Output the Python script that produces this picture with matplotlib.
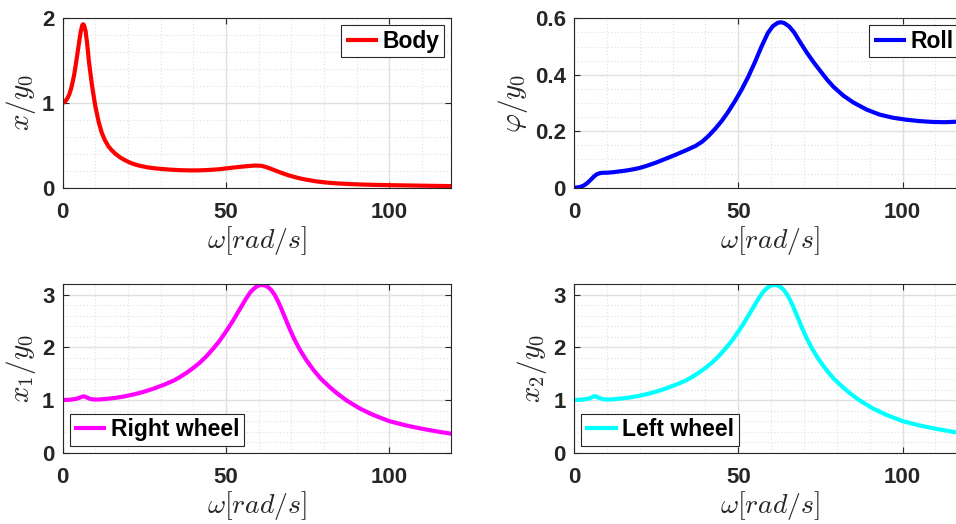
import numpy as np
import matplotlib
matplotlib.use("Agg")
import matplotlib.pyplot as plt
from matplotlib.ticker import MultipleLocator, FuncFormatter

plt.rcParams['font.family'] = ['Liberation Sans', 'DejaVu Sans']
plt.rcParams['mathtext.fontset'] = 'cm'

# ---- data ----
w_body = [0, 0.5, 1, 1.5, 2, 2.5, 3, 3.5, 4, 4.5, 5, 5.5, 6, 6.3, 6.6, 7, 7.5, 8, 8.5, 9,
          9.5, 10, 10.5, 11, 11.5, 12, 13, 14, 15, 16, 17.5, 19, 20.6, 22, 23.7, 26, 28,
          30, 33, 36, 39, 42, 45, 48, 51, 54, 57, 59, 61, 63, 65, 67, 69, 71, 73, 75, 78,
          81, 84, 88, 92, 96, 100, 105, 110, 115, 119]
body = [1.00, 1.01, 1.03, 1.06, 1.10, 1.16, 1.24, 1.33, 1.45, 1.58, 1.71, 1.84, 1.92, 1.93,
        1.91, 1.85, 1.70, 1.50, 1.35, 1.20, 1.08, 0.96, 0.87, 0.78, 0.71, 0.645, 0.555, 0.49,
        0.443, 0.405, 0.36, 0.326, 0.296, 0.276, 0.258, 0.24, 0.23, 0.222, 0.213, 0.207,
        0.204, 0.205, 0.21, 0.218, 0.232, 0.245, 0.256, 0.262, 0.258, 0.235, 0.205, 0.175,
        0.148, 0.126, 0.107, 0.092, 0.073, 0.06, 0.051, 0.043, 0.037, 0.033, 0.03, 0.027,
        0.024, 0.021, 0.019]

w_roll = [0, 1, 2, 3, 4, 5, 6, 7, 8, 9, 10, 12, 14, 16, 18, 20, 22, 25, 28, 31, 34, 37, 39,
          41, 43, 45, 47, 49, 51, 53, 55, 57, 59, 60.5, 62, 63, 64, 65.5, 67, 69, 71, 73,
          75, 77, 79, 82, 85, 89, 93, 97, 101, 105, 109, 113, 117, 120]
roll = [0.0, 0.001, 0.003, 0.008, 0.016, 0.027, 0.039, 0.048, 0.052, 0.053, 0.053, 0.055,
        0.058, 0.061, 0.065, 0.070, 0.077, 0.089, 0.103, 0.117, 0.132, 0.148, 0.163, 0.184,
        0.209, 0.237, 0.27, 0.307, 0.347, 0.392, 0.443, 0.498, 0.548, 0.572, 0.584, 0.586,
        0.583, 0.571, 0.550, 0.512, 0.476, 0.443, 0.413, 0.383, 0.357, 0.326, 0.302, 0.277,
        0.259, 0.248, 0.241, 0.236, 0.233, 0.232, 0.234, 0.237]

w_right = [0, 2, 4, 5, 6, 6.5, 7, 8, 9, 10, 11, 13, 16, 19, 22, 25, 28, 31, 34, 36, 38, 40,
           42, 44, 46, 48, 50, 52, 54, 56, 57.5, 59, 60, 61, 62, 63, 64, 65, 66, 67, 68,
           69.6, 71, 72.6, 74.5, 76.7, 79, 81.8, 84, 87, 91, 95, 100, 105, 110, 115, 119]
right_wheel = [1.00, 1.005, 1.02, 1.04, 1.065, 1.07, 1.06, 1.03, 1.015, 1.01, 1.01, 1.02,
               1.04, 1.07, 1.11, 1.16, 1.22, 1.29, 1.37, 1.44, 1.52, 1.61, 1.71, 1.83, 1.97,
               2.12, 2.30, 2.49, 2.70, 2.91, 3.05, 3.14, 3.175, 3.185, 3.175, 3.14, 3.08,
               2.99, 2.87, 2.73, 2.58, 2.34, 2.15, 1.96, 1.77, 1.58, 1.41, 1.245, 1.13, 0.99,
               0.84, 0.72, 0.60, 0.52, 0.455, 0.40, 0.36]

w_left = [0, 2, 4, 5, 6, 6.5, 7, 8, 9, 10, 11, 13, 16, 19, 22, 25, 28, 31, 34, 36, 38, 40,
          42, 44, 46, 48, 50, 52, 54, 56, 57.5, 59, 60, 61, 62, 63, 64, 65, 66, 67, 68,
          69.6, 71, 72.6, 74.5, 76.7, 79, 81.8, 84, 87, 91, 95, 100, 105, 110, 115, 119]
left_wheel = [1.00, 1.005, 1.02, 1.04, 1.07, 1.075, 1.06, 1.03, 1.015, 1.01, 1.01, 1.02,
              1.04, 1.07, 1.11, 1.16, 1.22, 1.29, 1.37, 1.44, 1.52, 1.61, 1.71, 1.83, 1.97,
              2.12, 2.30, 2.49, 2.70, 2.91, 3.05, 3.14, 3.175, 3.185, 3.175, 3.14, 3.08,
              2.99, 2.87, 2.73, 2.58, 2.34, 2.15, 1.96, 1.77, 1.58, 1.41, 1.245, 1.13, 0.99,
              0.84, 0.72, 0.60, 0.52, 0.455, 0.40, 0.365]

xlabel = r'$\omega[rad/s]$'
ylabels = [r'$x/y_0$', r'$\varphi/y_0$', r'$x_1/y_0$', r'$x_2/y_0$']
names = ['Body', 'Roll', 'Right wheel', 'Left wheel']
colors = ['#ff0000', '#0000ff', '#ff00ff', '#00ffff']

W, H = 956, 524
fig = plt.figure(figsize=(W / 100, H / 100), dpi=100)

def px_axes(l, t, w, h):
    return fig.add_axes([l / W, (H - t - h) / H, w / W, h / H])

ax1 = px_axes(62.7, 18.3, 388.5, 169.4)
ax2 = px_axes(574, 18.3, 391, 169.4)
ax3 = px_axes(62.7, 284.2, 388.5, 168.5)
ax4 = px_axes(574, 284.2, 391, 168.5)

setups = [
    (ax1, w_body, body, (0, 2), 1, 0.2, 'upper right'),
    (ax2, w_roll, roll, (0, 0.6), 0.2, 0.05, 'upper right'),
    (ax3, w_right, right_wheel, (0, 3.2), 1, 0.2, 'lower left'),
    (ax4, w_left, left_wheel, (0, 3.2), 1, 0.2, 'lower left'),
]

axc = '#262626'
for i, (ax, x, y, yl, ymaj, ymin, loc) in enumerate(setups):
    ax.plot(x, y, color=colors[i], lw=3, label=names[i],
            solid_joinstyle='round', solid_capstyle='butt')
    ax.set_xlim(0, 119)
    ax.set_ylim(*yl)
    ax.xaxis.set_major_locator(MultipleLocator(50))
    ax.xaxis.set_minor_locator(MultipleLocator(10))
    ax.yaxis.set_major_locator(MultipleLocator(ymaj))
    ax.yaxis.set_minor_locator(MultipleLocator(ymin))
    if i == 1:
        ax.yaxis.set_major_formatter(FuncFormatter(lambda v, p: '0' if abs(v) < 1e-9 else f'{v:.1f}'))
    else:
        ax.yaxis.set_major_formatter(FuncFormatter(lambda v, p: f'{v:g}'))
    ax.grid(True, which='major', color='#e0e0e0', lw=1.0, ls='-')
    ax.grid(True, which='minor', color='#e0e0e0', lw=0.8, ls=(0, (1, 2)))
    ax.set_axisbelow(True)
    for s in ax.spines.values():
        s.set_color(axc)
        s.set_linewidth(0.8)
    ax.tick_params(which='major', direction='in', length=4, width=0.8, color=axc,
                   top=True, right=True, labelsize=16, labelcolor=axc)
    ax.tick_params(axis='x', which='major', pad=10)
    ax.tick_params(axis='y', which='major', pad=6)
    ax.tick_params(which='minor', length=0)
    for lab in ax.get_xticklabels() + ax.get_yticklabels():
        lab.set_fontweight('bold')
    ax.set_xlabel(xlabel, fontsize=20, color=axc, labelpad=1)
    ax.set_ylabel(ylabels[i], fontsize=21, color=axc, labelpad=3)
    leg = ax.legend(loc=loc, prop={'weight': 'bold', 'size': 16.5},
                    handlelength=1.4, handletextpad=0.2, borderpad=0.2,
                    borderaxespad=0.3, fancybox=False, framealpha=1, edgecolor=axc)
    leg.get_frame().set_linewidth(0.8)

fig.savefig('out.png', dpi=100)
